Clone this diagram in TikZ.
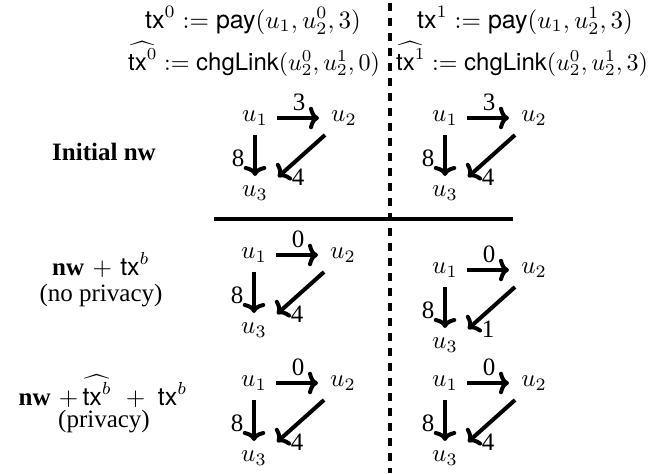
\documentclass[tikz,border=0pt]{standalone}
\usepackage[no-math]{fontspec}
\setmainfont{Liberation Serif}
\setsansfont{TeX Gyre Heros}
\usetikzlibrary{calc,arrows.meta}

\newcommand{\txs}{\textsf{tx}}
\newcommand{\netg}[5]{%
  \node[vert] (#1u1) at (#2,#3) {$u_1$};
  \node[vert] (#1u2) at ($(#1u1)+(89,0)$) {$u_2$};
  \node[vert] (#1u3) at ($(#1u1)+(0,75)$) {$u_3$};
  \draw[edge] ($(#1u1)+(22,0)$) -- ($(#1u2)+(-25,0)$);
  \draw[edge] ($(#1u1)+(0,17)$) -- ($(#1u3)+(0,-17)$);
  \draw[edge] ($(#1u2)+(-19,17)$) -- ($(#1u3)+(23,-16)$);
  \node[elabel] (#1l12) at ($(#1u1)+(44,-16)$) {#4};
  \node[elabel] (#1l13) at ($(#1u1)+(-17,40)$) {8};
  \node[elabel] (#1l23) at ($(#1u1)+(43,59)$) {#5};
}

\begin{document}
\begin{tikzpicture}[x=0.4pt,y=-0.4pt,
  vert/.style={inner sep=0pt},
  elabel/.style={inner sep=0pt},
  edge/.style={line width=1.6pt,-{To[length=4pt,width=9pt]}},
  rule/.style={line width=1.6pt},
  sep/.style={line width=1.7pt,dash pattern=on 3.2pt off 2.8pt},
  defn/.style={anchor=base,inner sep=0pt}]
\useasboundingbox (0,0) rectangle (670,473);

% top formulas
\node[defn] (t0) at (253,28) {$\txs^0 := \textsf{pay}(u_1, u_2^0, 3)$};
\node[defn] (t1) at (525,28) {$\txs^1 := \textsf{pay}(u_1, u_2^1, 3)$};
\node[defn,scale=0.96,transform shape] (h0) at (254,70) {$\widehat{\txs^0} := \textsf{chgLink}(u_2^0, u_2^1, 0)$};
\node[defn,scale=0.96,transform shape] (h1) at (522,70) {$\widehat{\txs^1} := \textsf{chgLink}(u_2^0, u_2^1, 3)$};

% separators
\coordinate (vt) at (390,3);
\coordinate (vb) at (390,473);
\coordinate (hl) at (214,219);
\coordinate (hr) at (513,219);
\draw[sep] (vt) -- (vb);
\draw[rule] (hl) -- (hr);

% row labels
\node[anchor=base] (r1) at (104,160) {\textbf{Initial nw}};
\node[anchor=base] (r2a) at (101,275) {$\textbf{nw}\mkern6mu{+}\mkern6mu\txs^b$};
\node[anchor=base] (r2b) at (101,301) {(no privacy)};
\node[anchor=base] (r3a) at (103,405) {$\textbf{nw}\mkern6mu{+}\mkern3mu\widehat{\txs^b}\mkern10mu{+}\mkern9mu\txs^b$};
\node[anchor=base] (r3b) at (104,427) {(privacy)};

% graphs
\netg{a}{255}{118}{3}{4}
\netg{b}{445}{118}{3}{4}
\netg{c}{254}{255}{0}{4}
\netg{d}{445}{270}{0}{1}
\netg{e}{254}{383}{0}{4}
\netg{f}{445}{383}{0}{4}
\end{tikzpicture}
\end{document}
